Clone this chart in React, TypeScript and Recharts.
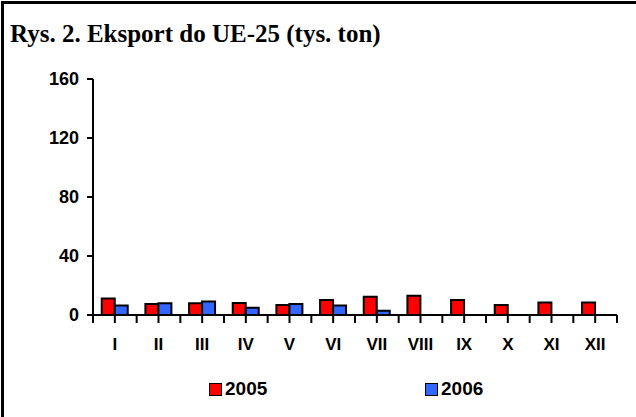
import { BarChart, Bar, XAxis, YAxis } from 'recharts';

const months = ['I', 'II', 'III', 'IV', 'V', 'VI', 'VII', 'VIII', 'IX', 'X', 'XI', 'XII'];
const export2005 = [11.2, 7.5, 8, 8.2, 6.8, 10.2, 12.3, 13, 10.2, 6.8, 8.4, 8.4];
const export2006: (number | null)[] = [6.4, 8, 9.1, 5, 7.5, 6.4, 2.8, null, null, null, null, null];
const yTicks = [0, 40, 80, 120, 160];

const data = months.map((m, i) => ({ month: m, y2005: export2005[i], y2006: export2006[i] }));

const font = '"Liberation Sans", Arial, sans-serif';
const TICK = 8;

// month label plus the tick marks on the category boundaries
function MonthTick(props: any) {
  const { x, y, payload, index } = props;
  const off = payload && payload.offset ? payload.offset : 524 / 24;
  const axisY = y - TICK;
  const last = index === months.length - 1;
  return (
    <g>
      <rect x={x - off - 1} y={axisY} width={2} height={TICK} fill="#000" />
      {last && <rect x={x + off - 1} y={axisY} width={2} height={TICK} fill="#000" />}
      <text x={x} y={y + 27} textAnchor="middle" fontFamily={font} fontWeight="bold" fontSize={17} fill="#000">
        {payload.value}
      </text>
    </g>
  );
}

export default function App() {
  return (
    <div style={{ position: 'absolute', left: 0, top: 0, width: 636, height: 417, background: '#fff', overflow: 'hidden' }}>
      <div style={{ position: 'absolute', left: 1, top: 1, width: 640, height: 420, borderTop: '3px solid #000', borderLeft: '3px solid #000' }} />
      <div
        style={{
          position: 'absolute',
          left: 10,
          top: 20,
          fontFamily: '"Liberation Serif", "Times New Roman", serif',
          fontWeight: 'bold',
          fontSize: 25,
          whiteSpace: 'nowrap',
        }}
      >
        Rys. 2. Eksport do UE-25 (tys. ton)
      </div>
      <BarChart
        width={636}
        height={417}
        data={data}
        margin={{ top: 79, right: 19, bottom: 72, left: 0 }}
        barCategoryGap="20%"
        barGap={0}
        style={{ position: 'absolute', left: 0, top: 0 }}
      >
        <XAxis
          dataKey="month"
          height={30}
          axisLine={{ stroke: '#000', strokeWidth: 2 }}
          tickLine={{ stroke: '#000', strokeWidth: 2 }}
          tickSize={TICK}
          tickMargin={0}
          tick={<MonthTick />}
          interval={0}
        />
        <YAxis
          width={93}
          domain={[0, 160]}
          ticks={yTicks}
          allowDataOverflow
          axisLine={{ stroke: '#000', strokeWidth: 2 }}
          tickLine={{ stroke: '#000', strokeWidth: 2 }}
          tickSize={6}
          tickMargin={8}
          tick={{ fill: '#000', fontFamily: font, fontWeight: 'bold', fontSize: 18 }}
        />
        <Bar dataKey="y2005" fill="#FF0000" stroke="#000" strokeWidth={2} isAnimationActive={false} />
        <Bar dataKey="y2006" fill="#3366FF" stroke="#000" strokeWidth={2} isAnimationActive={false} />
      </BarChart>
      {[
        { label: '2005', color: '#FF0000', left: 209 },
        { label: '2006', color: '#3366FF', left: 425 },
      ].map((s) => (
        <div
          key={s.label}
          style={{ position: 'absolute', left: s.left, top: 378, display: 'flex', alignItems: 'center', fontFamily: font, fontWeight: 'bold', fontSize: 19 }}
        >
          <span style={{ display: 'inline-block', width: 11, height: 11, background: s.color, border: '1.5px solid #000', marginRight: 3 }} />
          {s.label}
        </div>
      ))}
    </div>
  );
}
